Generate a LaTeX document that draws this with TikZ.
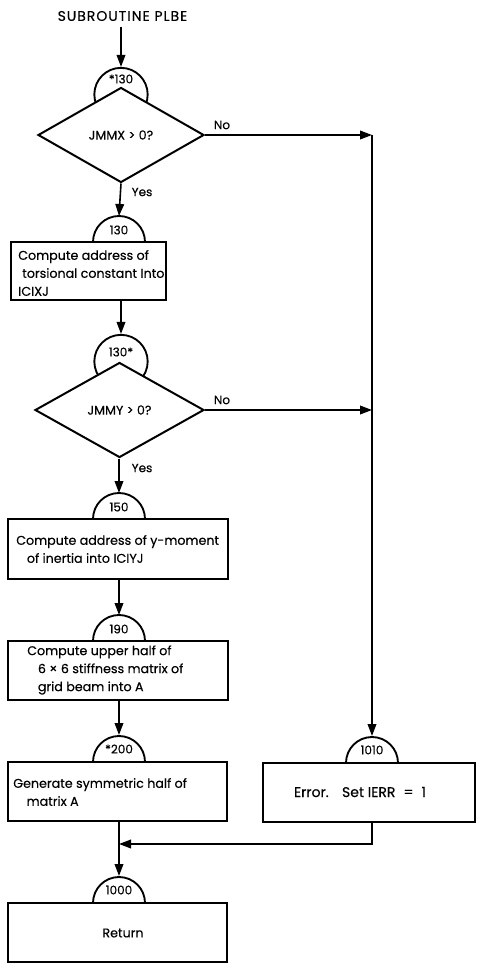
\documentclass[tikz,border=0pt]{standalone}
\usepackage{fontspec}
\setmainfont{Poppins}[FakeBold=0.35]
\newfontfamily\titlefont{Poppins}[FakeBold=0.35,LetterSpace=7]
\usetikzlibrary{shapes.geometric,arrows.meta}
\begin{document}
\begin{tikzpicture}[x=0.75pt,y=-0.75pt,
  txt/.style={font=\fontsize{9.5}{13.5}\selectfont, inner sep=0pt},
  boxtxt/.style={txt, align=left, anchor=west},
  tag/.style={font=\fontsize{9}{10}\selectfont, inner sep=0pt},
  flow/.style={line width=1.2pt, -{Triangle[length=9pt,width=6.5pt]}},
  boxnode/.style={draw, line width=1.6pt, rectangle, inner sep=0pt, fill=white},
  cond/.style={draw, line width=1.5pt, diamond, fill=white, inner sep=0pt, txt},
  ring/.style={draw, line width=1.4pt, circle, inner sep=0pt, minimum size=40pt},
  halfring/.style={line width=1.4pt}
]
\useasboundingbox (0,0) rectangle (477,964);

% entry
\node[inner sep=0pt, font=\titlefont\fontsize{10.5}{12}\selectfont] (title) at (122.5,16) {SUBROUTINE PLBE};

% first test: JMMX > 0?
\node[ring] (c1) at (121,94.5) {};
\node[cond, minimum width=124.5pt, minimum height=71.25pt] (d1) at (121,135) {JMMX > 0?};
\node[tag] (t1) at (121,79) {*130};

% connector half circles sitting on the boxes (base point and top point)
\coordinate (s130) at (119,242);   \coordinate (s130top) at (119,216);
\coordinate (s150) at (119,519);   \coordinate (s150top) at (119,493);
\coordinate (s190) at (119,641);   \coordinate (s190top) at (119,615);
\coordinate (s200) at (119,762);   \coordinate (s200top) at (119,735);
\coordinate (s1010) at (372,763);  \coordinate (s1010top) at (372,736);
\coordinate (s1000) at (119,903);  \coordinate (s1000top) at (119,876);
\foreach \nm in {s130,s150,s190,s200,s1010,s1000}{
  \draw[halfring] ([xshift=19.5pt]\nm) arc[start angle=0,end angle=180,radius=19.5pt];
}

% process boxes
\node[boxnode, minimum width=116.5pt, minimum height=43.5pt] (b1) at (88.5,271) {};
\node[boxtxt] (b1t) at (18,273) {Compute address of\\\hspace*{3pt}torsional constant Into\\ICIXJ};

% second test: JMMY > 0?
\node[ring] (c2) at (121,361.5) {};
\node[cond, minimum width=126.75pt, minimum height=71.25pt] (d2) at (119.5,410) {JMMY > 0?};
\node[tag] (t2) at (121,352) {130*};

\node[boxnode, minimum width=165pt, minimum height=45pt] (b2) at (118,549) {};
\node[boxtxt] (b2t) at (16,549) {Compute address of y-moment\\\hspace*{8pt}of inertia into ICIYJ};

\node[boxnode, minimum width=165pt, minimum height=44.25pt] (b3) at (118,670.5) {};
\node[boxtxt] (b3t) at (27,670) {Compute upper half of\\\hspace*{8pt}6 × 6 stiffness matrix of\\\hspace*{8pt}grid beam into A};

\node[boxnode, minimum width=164.25pt, minimum height=44.25pt] (b4) at (117.5,791.5) {};
\node[boxtxt] (b4t) at (13,792) {Generate symmetric half of\\\hspace*{10pt}matrix A};

\node[boxnode, minimum width=159pt, minimum height=44.25pt] (err) at (369,792.5) {};
\node[inner sep=0pt, font=\fontsize{10.5}{12}\selectfont] (errt) at (360,792) {Error.\hspace{10pt}Set IERR\hspace{6pt}=\hspace{6pt}1};

\node[boxnode, minimum width=164.25pt, minimum height=44.25pt] (ret) at (117.5,932.5) {};
\node[txt] (rett) at (123,933) {Return};

% semicircle numbers
\node[tag] (n130) at (119,230) {130};
\node[tag] (n150) at (119,507) {150};
\node[tag] (n190) at (119,629) {190};
\node[tag] (n200) at (119,749) {*200};
\node[tag] (n1010) at (372,750) {1010};
\node[tag] (n1000) at (119,890) {1000};

% branch labels
\node[tag] (no1) at (222,125) {No};
\node[tag] (no2) at (222,400) {No};
\node[tag] (yes1) at (142,192) {Yes};
\node[tag] (yes2) at (142,468) {Yes};

% connectors
\coordinate (k1) at (372,135);
\coordinate (j) at (119,844);
\draw[flow, shorten <=4pt] (title.south -| c1.north) -- (c1.north);
\draw[flow] (d1.east) -- (k1);
\draw[flow] (k1) -- (s1010top);
\draw[flow] (d2.east) -- (d2.east -| k1);
\draw[flow] (d1.south) -- (s130top);
\draw[flow] (c2.north |- b1.south) -- (c2.north);
\draw[flow] (d2.south -| s150top) -- (s150top);
\draw[flow] (s190top |- b2.south) -- (s190top);
\draw[flow] (s200top |- b3.south) -- (s200top);
\draw[flow] (s1000top |- b4.south) -- (s1000top);
\draw[flow] (k1 |- err.south) |- (j);
\end{tikzpicture}
\end{document}
